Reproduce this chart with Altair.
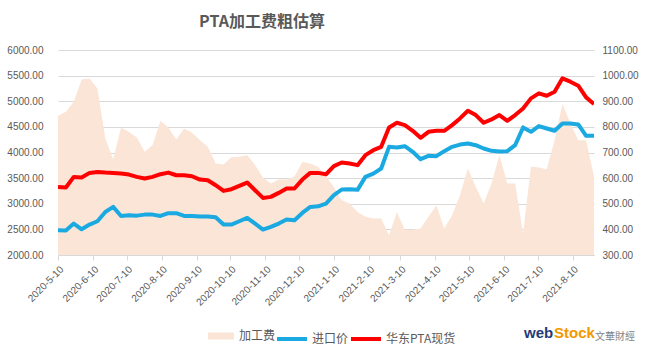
import altair as alt
import pandas as pd

# weekly observations
dates = pd.date_range("2020-05-10", periods=69, freq="7D").strftime("%Y-%m-%d").tolist()

fee = [842, 859, 898, 985, 989, 950, 755, 673, 798, 780,
       759, 703, 729, 824, 798, 751, 794, 777, 749, 722,
       657, 653, 681, 683, 690, 651, 602, 579, 595, 595,
       606, 663, 657, 644, 606, 565, 514, 501, 468, 449,
       442, 442, 377, 468, 399, 399, 403, 449, 494, 403,
       455, 533, 638, 566, 501, 579, 690, 579, 579, 384,
       645, 641, 635, 748, 889, 814, 748, 748, 605]

import_price = [2483, 2480, 2613, 2502, 2594, 2658, 2840, 2938, 2762, 2775,
                2768, 2788, 2788, 2762, 2815, 2815, 2762, 2762, 2749, 2749,
                2736, 2594, 2594, 2658, 2723, 2613, 2496, 2548, 2613, 2691,
                2678, 2821, 2938, 2950, 3002, 3167, 3278, 3284, 3271, 3524,
                3589, 3688, 4110, 4097, 4123, 4013, 3870, 3935, 3929, 4026,
                4110, 4155, 4175, 4143, 4078, 4032, 4019, 4026, 4143, 4489,
                4404, 4515, 4469, 4424, 4567, 4567, 4547, 4326, 4326]

spot = [3329, 3316, 3524, 3511, 3602, 3621, 3608, 3602, 3589, 3569,
        3524, 3492, 3524, 3576, 3608, 3556, 3556, 3537, 3472, 3459,
        3362, 3251, 3284, 3349, 3414, 3264, 3114, 3134, 3212, 3297,
        3297, 3472, 3602, 3602, 3576, 3733, 3805, 3785, 3753, 3948,
        4045, 4110, 4489, 4580, 4534, 4424, 4287, 4404, 4424, 4424,
        4534, 4665, 4814, 4730, 4580, 4645, 4730, 4619, 4730, 4860,
        5056, 5154, 5108, 5186, 5447, 5382, 5304, 5076, 4945]

series_names = ["加工费", "进口价", "华东PTA现货"]
left_ticks = [2000, 2500, 3000, 3500, 4000, 4500, 5000, 5500, 6000]
right_ticks = [300, 400, 500, 600, 700, 800, 900, 1000, 1100]
tick_dates = ["2020-05-10", "2020-06-10", "2020-07-10", "2020-08-10", "2020-09-10",
              "2020-10-10", "2020-11-10", "2020-12-10", "2021-01-10", "2021-02-10",
              "2021-03-10", "2021-04-10", "2021-05-10", "2021-06-10", "2021-07-10",
              "2021-08-10"]
x_range = ["2020-05-10", "2021-08-29"]


def ms(d):
    return int(pd.Timestamp(d, tz="UTC").value // 10**6)


GRAY = "#595959"
LIGHT = "#D9D9D9"
FONT = "Liberation Sans, Arial, sans-serif"
CJK = "Noto Sans CJK SC"

df = pd.DataFrame({"date": dates, "fee": fee, "s": series_names[0]})
long = pd.DataFrame({
    "date": dates * 2,
    "value": import_price + spot,
    "series": [series_names[1]] * len(dates) + [series_names[2]] * len(dates),
})
logo = pd.DataFrame({"a": ["web"], "b": ["Stock"], "c": ["文華財經"]})

x_enc = alt.X(
    "date:T",
    title=None,
    scale=alt.Scale(type="utc", domain=[ms(d) for d in x_range], nice=False),
    axis=alt.Axis(
        values=[ms(d) for d in tick_dates],
        labelExpr="utcFormat(datum.value, '%Y-%-m-%d')",
        labelAngle=-45, labelAlign="right", labelBaseline="top",
        labelColor=GRAY, labelFont=FONT, labelFontSize=10,
        domainColor=LIGHT, tickColor=LIGHT, tickSize=5, grid=False,
        labelPadding=4, labelOverlap=False,
    ),
)

area = alt.Chart(df).mark_area(clip=True).encode(
    x=x_enc,
    y=alt.Y("fee:Q", title=None,
            scale=alt.Scale(domain=[300, 1100], zero=False, nice=False),
            axis=alt.Axis(orient="right", values=right_ticks, format=".2f", grid=False,
                          ticks=False, domain=False, labelPadding=8,
                          labelColor=GRAY, labelFont=FONT, labelFontSize=10)),
    y2=alt.datum(300),
    fill=alt.Fill("s:N", scale=alt.Scale(domain=[series_names[0]], range=["#FBE5D6"]),
                  legend=alt.Legend(title=None, orient="none", legendX=149, legendY=272,
                                    symbolType="M-1,-0.27H1V0.27H-1Z", symbolSize=676,
                                    labelFontSize=12, labelColor=GRAY, labelFont=CJK,
                                    labelOffset=4)),
)

lines = alt.Chart(long).mark_line(strokeWidth=4, strokeJoin="round", clip=True).encode(
    x=x_enc,
    y=alt.Y("value:Q", title=None,
            scale=alt.Scale(domain=[2000, 6000], zero=False, nice=False),
            axis=alt.Axis(orient="left", values=left_ticks, format=".2f", grid=True,
                          gridColor=LIGHT, ticks=False, domain=False, labelPadding=15,
                          labelColor=GRAY, labelFont=FONT, labelFontSize=10)),
    stroke=alt.Stroke("series:N",
                      scale=alt.Scale(domain=series_names[1:], range=["#1AA9E1", "#FF0000"]),
                      legend=alt.Legend(title=None, orient="none", legendX=217, legendY=272,
                                        direction="horizontal", symbolType="stroke",
                                        symbolSize=900, symbolStrokeWidth=4,
                                        labelFontSize=12, labelColor=GRAY, labelFont=CJK,
                                        labelOffset=3, columnPadding=-8)),
    detail="series:N",
)

t_web = alt.Chart(logo).mark_text(font="Liberation Sans", fontSize=15, fontWeight="bold",
                                  color="#1F3C78", align="left", baseline="alphabetic").encode(
    text="a:N", x=alt.value(466), y=alt.value(288))
t_stock = alt.Chart(logo).mark_text(font="Liberation Sans", fontSize=15, fontWeight="bold",
                                    color="#F39800", align="left", baseline="alphabetic").encode(
    text="b:N", x=alt.value(496), y=alt.value(288))
t_cn = alt.Chart(logo).mark_text(font=CJK, fontSize=10, color="#7F7F7F",
                                 align="left", baseline="alphabetic").encode(
    text="c:N", x=alt.value(537), y=alt.value(290))

chart = alt.layer(area, lines, t_web, t_stock, t_cn).resolve_scale(
    y="independent"
).properties(
    width=536, height=205,
    autosize=alt.AutoSizeParams(type="none"),
    padding={"left": 58, "top": 50, "right": 55, "bottom": 96},
    title=alt.TitleParams("PTA加工费粗估算", font=CJK, fontSize=16, fontWeight="bold",
                          color=GRAY, anchor="middle", dx=-64, offset=15),
    background="white",
).configure_view(stroke=None)

chart.save("out.html", embed_options={"renderer": "svg", "actions": False})
